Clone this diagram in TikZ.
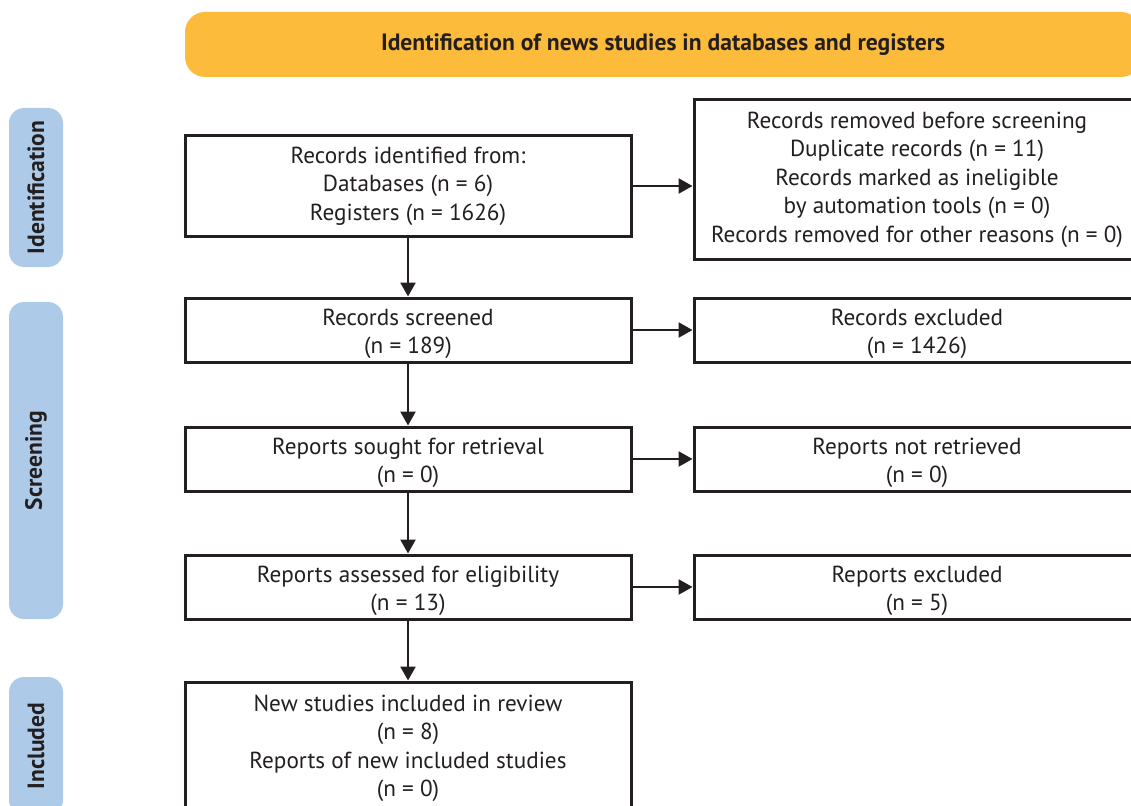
\documentclass[tikz,border=0pt]{standalone}
\usepackage{fontspec}
\setmainfont{PT Sans}
\usetikzlibrary{arrows.meta}
\definecolor{txt}{HTML}{231F20}
\definecolor{bannerc}{HTML}{FDBB3B}
\definecolor{sidec}{HTML}{ADCBE8}
\newcommand{\lowstrut}{\rule{0pt}{24pt}}
\tikzset{
  flowbox/.style={draw=txt, line width=3pt, fill=white, text=txt, align=center, minimum width=446pt, inner sep=0pt, font=\fontsize{23.2}{28.5}\selectfont},
  sidebar/.style={fill=sidec, rounded corners=15pt, minimum width=54pt, inner sep=0pt, text=txt, font=\bfseries\fontsize{23.5}{24}\selectfont, rotate=90},
  banner/.style={fill=bannerc, rounded corners=20pt, minimum width=956pt, minimum height=65pt, inner sep=0pt, text=txt, font=\bfseries\fontsize{23.6}{24}\selectfont},
  flowarrow/.style={draw=txt, line width=2.6pt, -{Triangle[length=14pt,width=15pt]}}
}
\begin{document}
\begin{tikzpicture}[x=1pt,y=-1pt]
\useasboundingbox (0,0) rectangle (1131,805);
\clip (0,0) rectangle (1131,805);
\node[banner] (banner) at (663,44.5) {Identification of news studies in databases and registers};
\node[sidebar, minimum height=54pt, minimum width=159pt] (sideid) at (36,187.5) {Identification};
\node[sidebar, minimum height=54pt, minimum width=317pt] (sidescr) at (36,460.5) {Screening};
\node[sidebar, minimum height=54pt, minimum width=138pt] (sideinc) at (36,746) {Included};

\node[flowbox, minimum height=100pt] (ident) at (408,186) {Records identified from:\\Databases (n = 6)\\Registers (n = 1626)};
\node[flowbox, minimum height=159pt] (removed) at (917,179.5) {Records removed before screening\\Duplicate records (n = 11)\\Records marked as ineligible\\by automation tools (n = 0)\\Records removed for other reasons (n = 0)};
\node[flowbox, minimum height=64pt] (screened) at (408,330) {\lowstrut Records screened\\(n = 189)};
\node[flowbox, minimum height=64pt] (excluded) at (917,330) {\lowstrut Records excluded\\(n = 1426)};
\node[flowbox, minimum height=64pt] (sought) at (408,459) {\lowstrut Reports sought for retrieval\\(n = 0)};
\node[flowbox, minimum height=64pt] (notret) at (917,459) {\lowstrut Reports not retrieved\\(n = 0)};
\node[flowbox, minimum height=64pt] (assessed) at (408,587) {\lowstrut Reports assessed for eligibility\\(n = 13)};
\node[flowbox, minimum height=64pt] (repexcl) at (917,587) {\lowstrut Reports excluded\\(n = 5)};
\node[flowbox, minimum height=125pt] (included) at (408,744.5) {\lowstrut New studies included in review\\(n = 8)\\Reports of new included studies\\(n = 0)};

\draw[flowarrow] (ident.south) -- (screened.north);
\draw[flowarrow] (screened.south) -- (sought.north);
\draw[flowarrow] (sought.south) -- (assessed.north);
\draw[flowarrow] (assessed.south) -- (included.north);
\draw[flowarrow] (ident.east) -- (removed.west |- ident.east);
\draw[flowarrow] (screened.east) -- (excluded.west);
\draw[flowarrow] (sought.east) -- (notret.west);
\draw[flowarrow] (assessed.east) -- (repexcl.west);
\end{tikzpicture}
\end{document}
